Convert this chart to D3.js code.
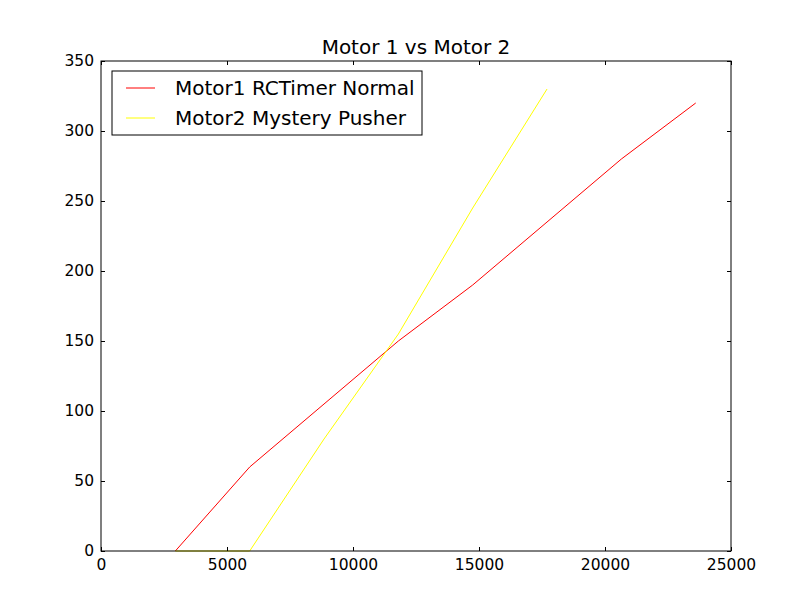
<!DOCTYPE html>
<html>
<head>
<meta charset="utf-8">
<script src="https://cdn.jsdelivr.net/npm/d3@7"></script>
<style>
  body { margin: 0; background: #fff; }
  svg { display: block; font-family: "DejaVu Sans", sans-serif; }
</style>
</head>
<body>
<svg id="chart"></svg>
<script>
// data
const motor1X = [2950, 5900, 11800, 14750, 20650, 23600];
const motor1Y = [0, 60, 150, 190, 280, 320];
const motor2X = [2950, 5900, 8850, 11800, 14750, 17700];
const motor2Y = [0, 0, 80, 155, 245, 330];
const xTicks = [0, 5000, 10000, 15000, 20000, 25000];
const yTicks = [0, 50, 100, 150, 200, 250, 300, 350];
const seriesNames = ["Motor1 RCTimer Normal", "Motor2 Mystery Pusher"];
const seriesColors = ["#ff0000", "#ffff00"];

const width = 812, height = 612;
const margin = { top: 61, right: 81, bottom: 61, left: 101 };
const innerW = width - margin.left - margin.right;
const innerH = height - margin.top - margin.bottom;

const svg = d3.select("#chart").attr("width", width).attr("height", height);
const g = svg.append("g").attr("transform", `translate(${margin.left},${margin.top})`);

const x = d3.scaleLinear().domain([0, 25000]).range([0, innerW]);
const y = d3.scaleLinear().domain([0, 350]).range([innerH, 0]);

// series lines
const line = d3.line().x(d => x(d[0])).y(d => y(d[1]));
const series = [
    d3.zip(motor1X, motor1Y),
    d3.zip(motor2X, motor2Y)
];
series.forEach((pts, i) => {
    g.append("path")
        .datum(pts)
        .attr("d", line)
        .attr("fill", "none")
        .attr("stroke", seriesColors[i])
        .attr("stroke-width", 1);
});

// axes, ticks pointing inwards on all four sides
const tickLen = 4;
const fmt = d3.format("d");
const axisBottomG = g.append("g").attr("transform", `translate(0,${innerH})`)
    .call(d3.axisBottom(x).tickValues(xTicks).tickFormat(fmt).tickSizeInner(-tickLen).tickSizeOuter(0).tickPadding(7));
const axisTopG = g.append("g")
    .call(d3.axisTop(x).tickValues(xTicks).tickSizeInner(-tickLen).tickSizeOuter(0).tickFormat(""));
const axisLeftG = g.append("g")
    .call(d3.axisLeft(y).tickValues(yTicks).tickFormat(fmt).tickSizeInner(-tickLen).tickSizeOuter(0).tickPadding(7));
const axisRightG = g.append("g").attr("transform", `translate(${innerW},0)`)
    .call(d3.axisRight(y).tickValues(yTicks).tickSizeInner(-tickLen).tickSizeOuter(0).tickFormat(""));

[axisBottomG, axisTopG, axisLeftG, axisRightG].forEach(a => {
    a.select(".domain").remove();
    a.selectAll("line").attr("stroke", "#000");
    a.selectAll("text").attr("fill", "#000").style("font-size", "15.5px")
        .style("font-family", "'DejaVu Sans', sans-serif");
});
axisBottomG.selectAll("text").attr("dy", "0.75em");

// frame
g.append("rect")
    .attr("width", innerW).attr("height", innerH)
    .attr("fill", "none").attr("stroke", "#000").attr("stroke-width", 1);

// title
svg.append("text")
    .attr("x", margin.left + innerW / 2)
    .attr("y", 54)
    .attr("text-anchor", "middle")
    .style("font-size", "20px")
    .text("Motor 1 vs Motor 2");

// legend
const legend = svg.append("g").attr("transform", "translate(112,71)");
legend.append("rect")
    .attr("width", 310).attr("height", 64)
    .attr("fill", "#fff").attr("stroke", "#000").attr("stroke-width", 1);
seriesNames.forEach((name, i) => {
    const ly = 17 + i * 30;
    legend.append("line")
        .attr("x1", 14).attr("x2", 43).attr("y1", ly).attr("y2", ly)
        .attr("stroke", seriesColors[i]).attr("stroke-width", 1);
    legend.append("text")
        .attr("x", 63).attr("y", ly).attr("dy", "0.36em")
        .style("font-size", "20px")
        .text(name);
});
</script>
</body>
</html>
